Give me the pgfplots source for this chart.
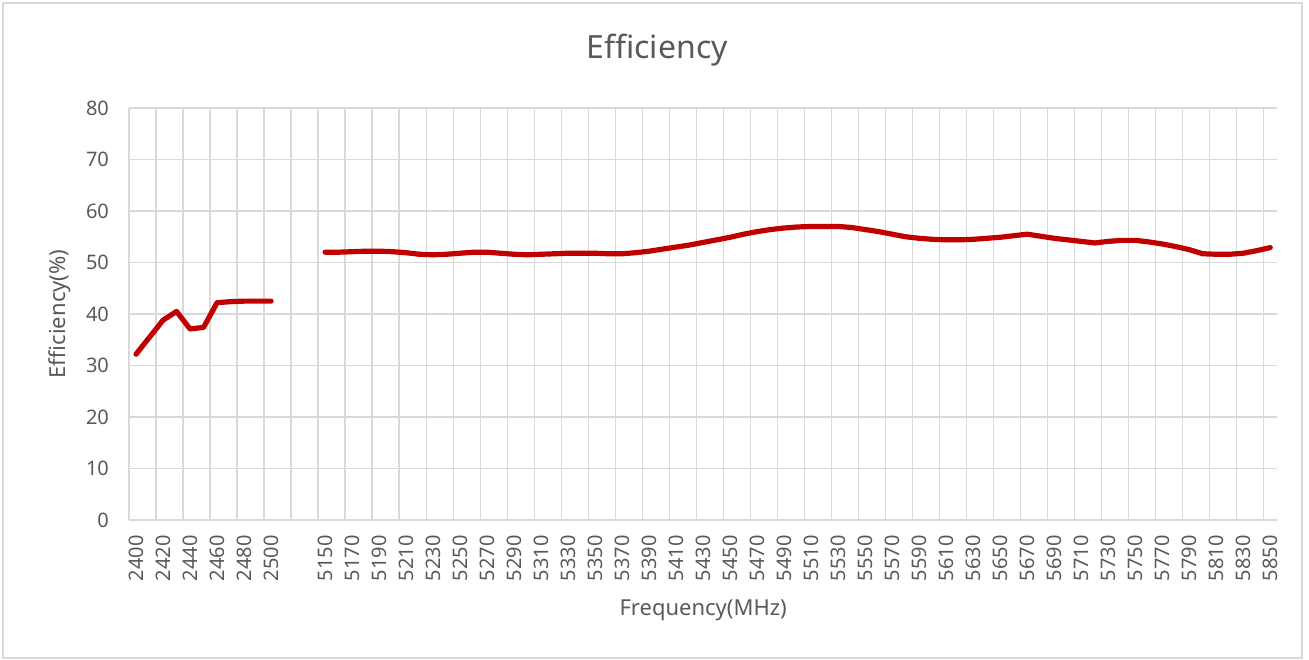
\documentclass[border=0pt]{standalone}
\usepackage{pgfplots}
\pgfplotsset{compat=1.18}
\usepackage{pgfplotstable}
\usepackage{fontspec}
\setmainfont{Noto Sans}
\definecolor{txt}{RGB}{89,89,89}
\definecolor{grd}{RGB}{217,217,217}
\definecolor{ln}{RGB}{192,0,0}

\pgfplotstableread{
f v
2400 32.2
2410 35.5
2420 38.8
2430 40.5
2440 37.1
2450 37.4
2460 42.2
2470 42.4
2480 42.5
2490 42.5
2500 42.5
}\lowband

\pgfplotstableread{
f v
5150 52.0
5160 52.0
5170 52.1
5180 52.2
5190 52.2
5200 52.1
5210 51.9
5220 51.6
5230 51.5
5240 51.6
5250 51.8
5260 52.0
5270 52.0
5280 51.8
5290 51.6
5300 51.5
5310 51.6
5320 51.7
5330 51.8
5340 51.8
5350 51.8
5360 51.7
5370 51.7
5380 51.9
5390 52.2
5400 52.6
5410 53.0
5420 53.4
5430 53.9
5440 54.4
5450 54.9
5460 55.5
5470 56.0
5480 56.4
5490 56.7
5500 56.9
5510 57.0
5520 57.0
5530 57.0
5540 56.8
5550 56.4
5560 56.0
5570 55.5
5580 55.0
5590 54.7
5600 54.5
5610 54.4
5620 54.4
5630 54.5
5640 54.7
5650 54.9
5660 55.2
5670 55.5
5680 55.1
5690 54.7
5700 54.4
5710 54.1
5720 53.8
5730 54.1
5740 54.3
5750 54.3
5760 54.0
5770 53.6
5780 53.1
5790 52.5
5800 51.7
5810 51.6
5820 51.6
5830 51.8
5840 52.3
5850 52.9
}\highband

\begin{document}
\begin{tikzpicture}
\useasboundingbox (-64.65pt,-69.5pt) rectangle (589.85pt,260pt);
\draw[grd, line width=0.8pt] (-63.15pt,-68.9pt) rectangle (586.35pt,258.5pt);
\node[text=txt, font=\fontsize{16}{19}\selectfont] at (263.9pt,235pt) {Efficiency};
\begin{axis}[
  at={(0pt,0pt)}, anchor=south west,
  scale only axis, width=573.85pt, height=206pt,
  xmin=-0.5, xmax=84.5, ymin=0, ymax=80,
  ytick={0,10,...,80},
  xtick={0,2,...,84},
  xticklabels={2400,2420,2440,2460,2480,2500,{},5150,5170,5190,5210,5230,5250,5270,5290,5310,5330,5350,5370,5390,5410,5430,5450,5470,5490,5510,5530,5550,5570,5590,5610,5630,5650,5670,5690,5710,5730,5750,5770,5790,5810,5830,5850},
  extra x ticks={-0.5,1.5,3.5,5.5,7.5,9.5,11.5,13.5,15.5,17.5,19.5,21.5,23.5,25.5,27.5,29.5,31.5,33.5,35.5,37.5,39.5,41.5,43.5,45.5,47.5,49.5,51.5,53.5,55.5,57.5,59.5,61.5,63.5,65.5,67.5,69.5,71.5,73.5,75.5,77.5,79.5,81.5,83.5},
  extra x tick labels={},
  extra x tick style={grid=major, major grid style={grd, line width=0.85pt}, major tick length=0pt},
  xmajorgrids=false, ymajorgrids=true,
  major grid style={grd, line width=0.85pt},
  axis line style={draw=none},
  major tick length=0pt, minor tick length=0pt,
  /pgf/number format/assume math mode=true,
  ticklabel style={font=\fontsize{10}{12}\selectfont, text=txt, inner sep=0pt},
  yticklabel style={anchor=east, xshift=-10pt},
  xticklabel style={rotate=90, anchor=east, xshift=-7.5pt},
  xlabel={Frequency(MHz)},
  ylabel={Efficiency(\%)},
  label style={font=\fontsize{11}{13}\selectfont, text=txt},
  xlabel style={at={(axis description cs:0.5,-0.2184)}, anchor=center},
  ylabel style={at={(axis description cs:-0.0603,0.5)}, anchor=center, rotate=0},
  clip=false,
]
\addplot[ln, line width=2.6pt, line join=round, line cap=round] table[x expr={(\thisrow{f}-2400)/10}, y=v] {\lowband};
\addplot[ln, line width=2.6pt, line join=round, line cap=round] table[x expr={(\thisrow{f}-5150)/10+14}, y=v] {\highband};
\end{axis}
\end{tikzpicture}
\end{document}
